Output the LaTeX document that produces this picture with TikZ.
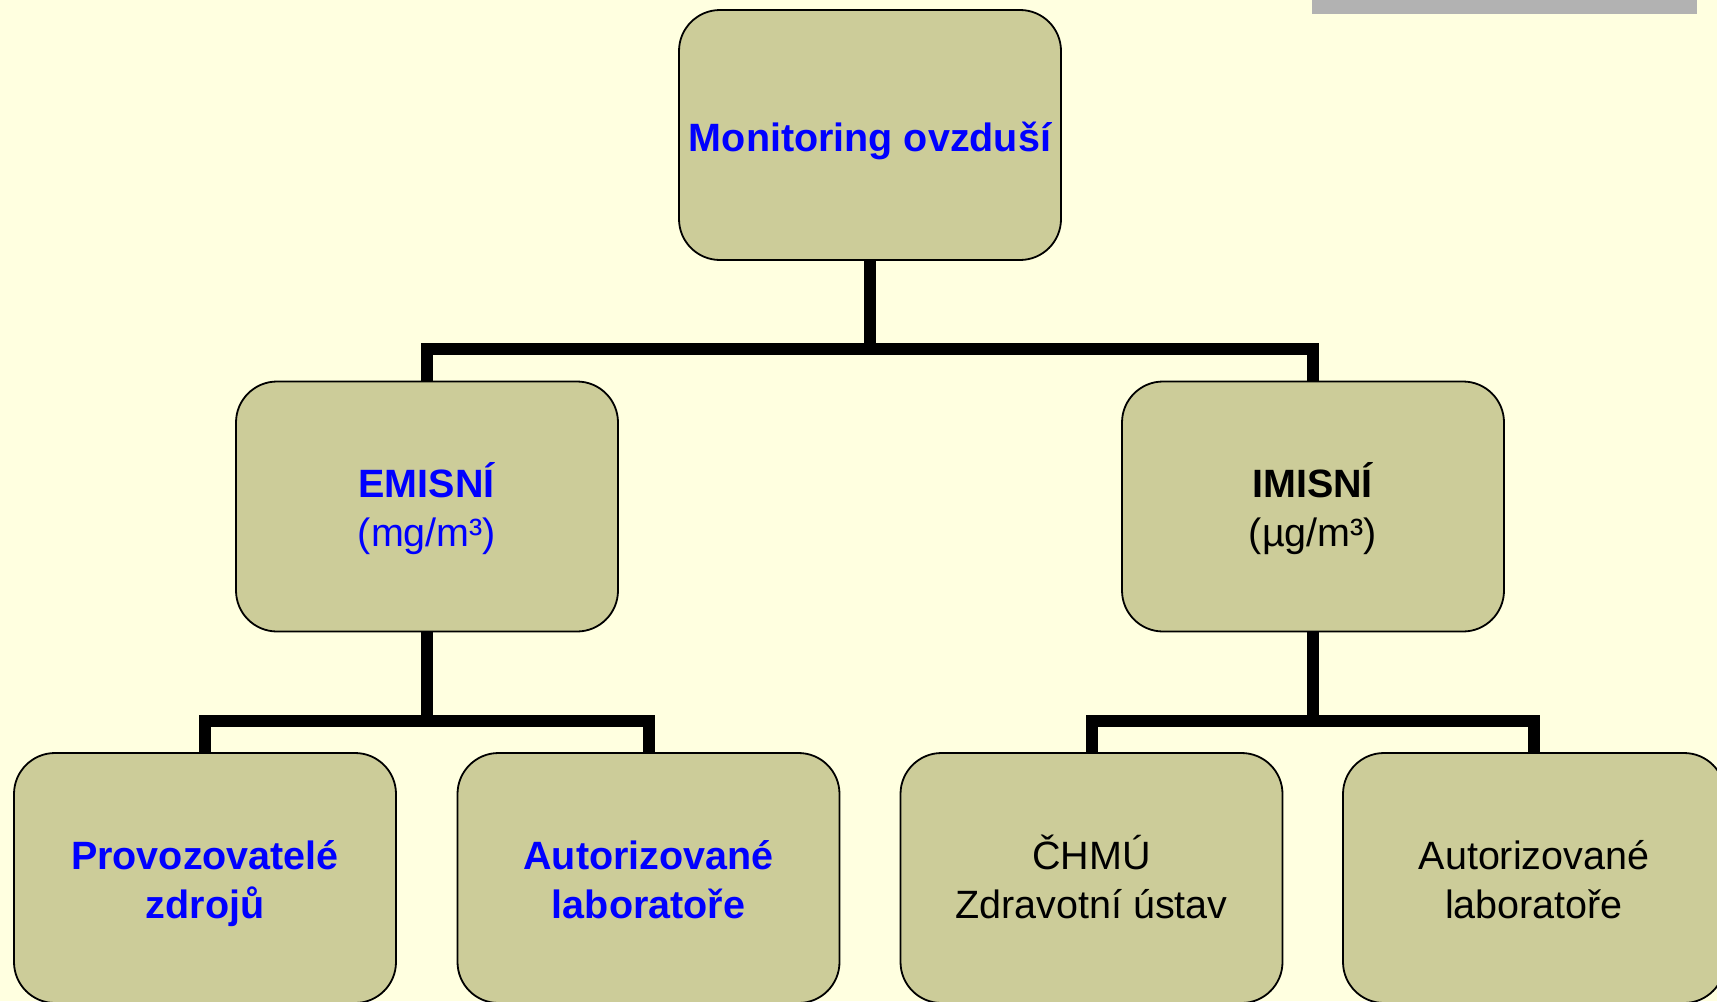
\documentclass[tikz,border=0pt]{standalone}
\usepackage{fontspec}
\setmainfont{Liberation Sans}
\definecolor{bgcol}{RGB}{255,255,224}
\definecolor{boxfill}{RGB}{204,204,153}
\definecolor{barcol}{RGB}{178,178,178}
\definecolor{txtblue}{RGB}{0,0,255}
\begin{document}
\begin{tikzpicture}[x=0.5pt,y=-0.5pt,
  box/.style={draw=black, line width=0.9pt, fill=boxfill, rounded corners=20.5pt,
    minimum width=191pt, minimum height=125pt, inner sep=0pt, align=center,
    font=\fontsize{19.75pt}{24.5pt}\selectfont},
  one/.style={text height=19.8pt, text depth=3.75pt},
  twomid/.style={text height=44.4pt, text depth=3.95pt},
  twolow/.style={text height=44.9pt, text depth=3.95pt},
  bluebox/.style={box, text=txtblue},
  conn/.style={line width=6pt, draw=black}]
\useasboundingbox (0,0) rectangle (1717,1001);
\fill[bgcol] (0,0) rectangle (1717,1001);
\fill[barcol] (1312,0) rectangle (1697,14);

\node[bluebox, one] (top) at (870,135) {\bfseries Monitoring ovzduší};
\node[bluebox, twomid] (emis) at (427,506.5) {\textbf{EMISNÍ}\\(mg/m³)};
\node[box, twomid] (imis) at (1313,506.5) {\textbf{IMISNÍ}\\(µg/m³)};
\node[bluebox, twolow] (b1) at (205,878) {\textbf{Provozovatelé}\\\textbf{zdrojů}};
\node[bluebox, twolow] (b2) at (648.5,878) {\textbf{Autorizované}\\\textbf{laboratoře}};
\node[box, twolow] (b3) at (1091.5,878) {ČHMÚ\\Zdravotní ústav};
\node[box, twolow] (b4) at (1534,878) {Autorizované\\laboratoře};

\draw[conn] (top.south) -- ++(0,88) -| (emis.north);
\draw[conn] (top.south) -- ++(0,88) -| (imis.north);
\draw[conn] (emis.south) -- ++(0,88.5) -| (b1.north);
\draw[conn] (emis.south) -- ++(0,88.5) -| (b2.north);
\draw[conn] (imis.south) -- ++(0,88.5) -| (b3.north);
\draw[conn] (imis.south) -- ++(0,88.5) -| (b4.north);
\end{tikzpicture}
\end{document}
